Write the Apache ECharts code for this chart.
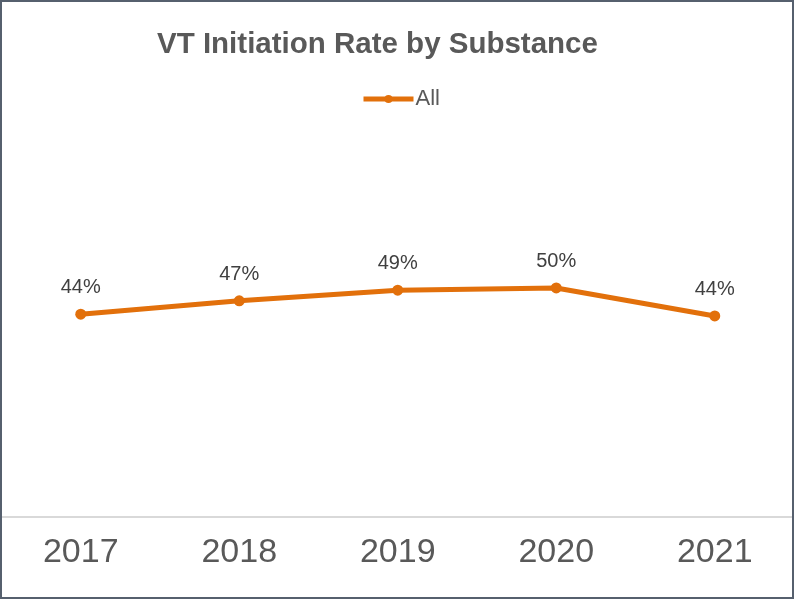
<!DOCTYPE html>
<html>
<head>
<meta charset="utf-8">
<script src="https://cdn.jsdelivr.net/npm/echarts@6/dist/echarts.min.js"></script>
<style>
html,body{margin:0;padding:0;background:#fff;}
#chart{width:794px;height:599px;position:absolute;left:0;top:0;}
#frame{position:absolute;left:0;top:0;width:794px;height:599px;box-sizing:border-box;border:2px solid #56606e;pointer-events:none;}
</style>
</head>
<body>
<div id="chart"></div>
<div id="frame"></div>
<script>
const categories = ['2017', '2018', '2019', '2020', '2021'];
const seriesName = 'All';
const values = [0.441, 0.470, 0.493, 0.498, 0.437];
const titleText = 'VT Initiation Rate by Substance';

const chart = echarts.init(document.getElementById('chart'), null, {renderer: 'canvas'});
chart.setOption({
  animation: false,
  backgroundColor: '#ffffff',
  title: {
    text: titleText,
    left: 152,
    top: 25,
    textStyle: {fontFamily: 'Liberation Sans', fontSize: 29.5, fontWeight: 'bold', color: '#595959'}
  },
  legend: {
    data: [seriesName],
    left: 356,
    top: 83,
    itemWidth: 50,
    itemHeight: 10,
    itemGap: 10,
    lineStyle: {width: 5},
    textStyle: {fontFamily: 'Liberation Sans', fontSize: 22, color: '#595959', padding: [0, 0, 0, -3]}
  },
  grid: {left: 1.5, width: 795, top: 149, bottom: 82, containLabel: false},
  xAxis: {
    type: 'category',
    data: categories,
    boundaryGap: true,
    axisLine: {show: true, lineStyle: {color: '#d9d9d9', width: 2}},
    axisTick: {show: false},
    axisLabel: {fontFamily: 'Liberation Sans', fontSize: 34, color: '#595959', margin: 19}
  },
  yAxis: {
    type: 'value',
    min: 0,
    max: 0.8,
    show: false,
    splitLine: {show: false}
  },
  series: [{
    name: seriesName,
    type: 'line',
    data: values,
    symbol: 'circle',
    symbolSize: 11,
    itemStyle: {color: '#E2700B'},
    lineStyle: {color: '#E2700B', width: 5},
    label: {
      show: true,
      position: 'top',
      distance: 11,
      fontFamily: 'Liberation Sans',
      fontSize: 20,
      color: '#404040',
      formatter: p => Math.round(p.value * 100) + '%'
    }
  }]
});
</script>
</body>
</html>
